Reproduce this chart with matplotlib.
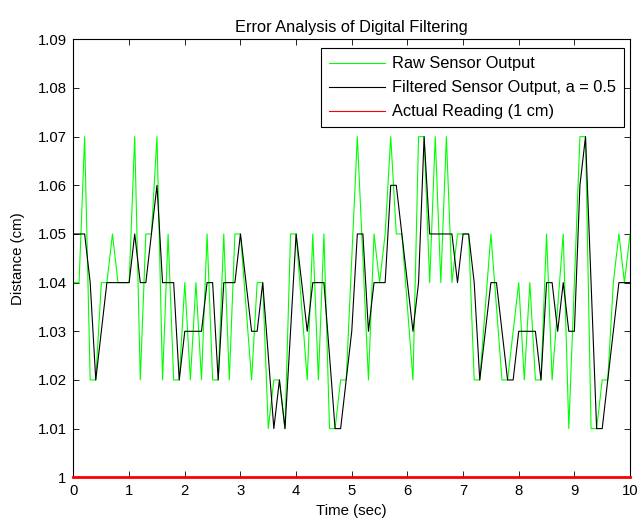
import matplotlib

matplotlib.use("Agg")
import matplotlib.pyplot as plt
import numpy as np

plt.rcParams["font.family"] = ["Liberation Sans", "DejaVu Sans"]

# sensor readings, one every 0.1 s from t = 0 to t = 10
sample_step = 0.1

raw_output = [
    1.04, 1.04, 1.07, 1.02, 1.02, 1.04, 1.04, 1.05, 1.04, 1.04,
    1.04, 1.07, 1.02, 1.05, 1.05, 1.07, 1.02, 1.05, 1.02, 1.02,
    1.04, 1.02, 1.04, 1.02, 1.05, 1.02, 1.02, 1.05, 1.02, 1.05,
    1.05, 1.035, 1.02, 1.04, 1.04, 1.01, 1.02, 1.02, 1.01, 1.05,
    1.05, 1.035, 1.02, 1.05, 1.02, 1.05, 1.01, 1.01, 1.02, 1.02,
    1.045, 1.07, 1.045, 1.02, 1.05, 1.04, 1.05, 1.07, 1.05, 1.05,
    1.035, 1.02, 1.07, 1.07, 1.04, 1.07, 1.04, 1.07, 1.04, 1.05,
    1.05, 1.05, 1.02, 1.02, 1.035, 1.05, 1.035, 1.02, 1.02, 1.03,
    1.04, 1.02, 1.04, 1.02, 1.02, 1.05, 1.02, 1.035, 1.05, 1.01,
    1.04, 1.07, 1.07, 1.01, 1.01, 1.02, 1.02, 1.04, 1.05, 1.04,
    1.05,
]

filtered_output = [
    1.05, 1.05, 1.05, 1.04, 1.02, 1.03, 1.04, 1.04, 1.04, 1.04,
    1.04, 1.05, 1.04, 1.04, 1.05, 1.06, 1.04, 1.04, 1.04, 1.02,
    1.03, 1.03, 1.03, 1.03, 1.04, 1.04, 1.02, 1.04, 1.04, 1.04,
    1.05, 1.04, 1.03, 1.03, 1.04, 1.025, 1.01, 1.02, 1.01, 1.03,
    1.05, 1.04, 1.03, 1.04, 1.04, 1.04, 1.025, 1.01, 1.01, 1.02,
    1.03, 1.05, 1.05, 1.03, 1.04, 1.04, 1.04, 1.06, 1.06, 1.05,
    1.04, 1.03, 1.04, 1.07, 1.05, 1.05, 1.05, 1.05, 1.05, 1.04,
    1.05, 1.05, 1.04, 1.02, 1.03, 1.04, 1.04, 1.03, 1.02, 1.02,
    1.03, 1.03, 1.03, 1.03, 1.02, 1.04, 1.04, 1.03, 1.04, 1.03,
    1.03, 1.06, 1.07, 1.04, 1.01, 1.01, 1.02, 1.03, 1.04, 1.04,
    1.04,
]

actual_reading = 1.0
filter_a = 0.5

x_ticks = list(range(0, 11))
y_ticks = [1.00, 1.01, 1.02, 1.03, 1.04, 1.05, 1.06, 1.07, 1.08, 1.09]
y_tick_labels = ["1", "1.01", "1.02", "1.03", "1.04", "1.05", "1.06", "1.07", "1.08", "1.09"]

time = np.arange(len(raw_output)) * sample_step

fig = plt.figure(figsize=(6.38, 5.25), dpi=100)
ax = fig.add_axes([0.1152, 0.0909, 0.8723, 0.8342])

ax.plot(time, raw_output, color="#00ff00", linewidth=0.8, label="Raw Sensor Output")
ax.plot(time, filtered_output, color="black", linewidth=0.8,
        label=f"Filtered Sensor Output, a = {filter_a}")
ax.plot([time[0], time[-1]], [actual_reading, actual_reading], color="#ff0000",
        linewidth=2.0, clip_on=False, zorder=5, label="Actual Reading (1 cm)")

ax.set_xlim(0, 10)
ax.set_ylim(1.0, 1.09)
ax.set_xticks(x_ticks)
ax.set_yticks(y_ticks)
ax.set_yticklabels(y_tick_labels)
ax.tick_params(direction="in", top=True, right=True, length=4, width=0.6,
               labelsize=10.7, pad=5)
for spine in ax.spines.values():
    spine.set_linewidth(0.8)

ax.set_title("Error Analysis of Digital Filtering", fontsize=11.8, pad=5)
ax.set_xlabel("Time (sec)", fontsize=10.8, labelpad=4)
ax.set_ylabel("Distance (cm)", fontsize=10.8, labelpad=9)

leg = ax.legend(loc="upper right", bbox_to_anchor=(0.989, 0.980), fontsize=11.8,
                fancybox=False, framealpha=1, edgecolor="black",
                handlelength=3.4, handletextpad=0.4, labelspacing=0.55,
                borderaxespad=0, borderpad=0.5)
leg.get_frame().set_linewidth(0.8)
for line in leg.get_lines():
    line.set_linewidth(0.8)

fig.savefig("out.png", dpi=100)
